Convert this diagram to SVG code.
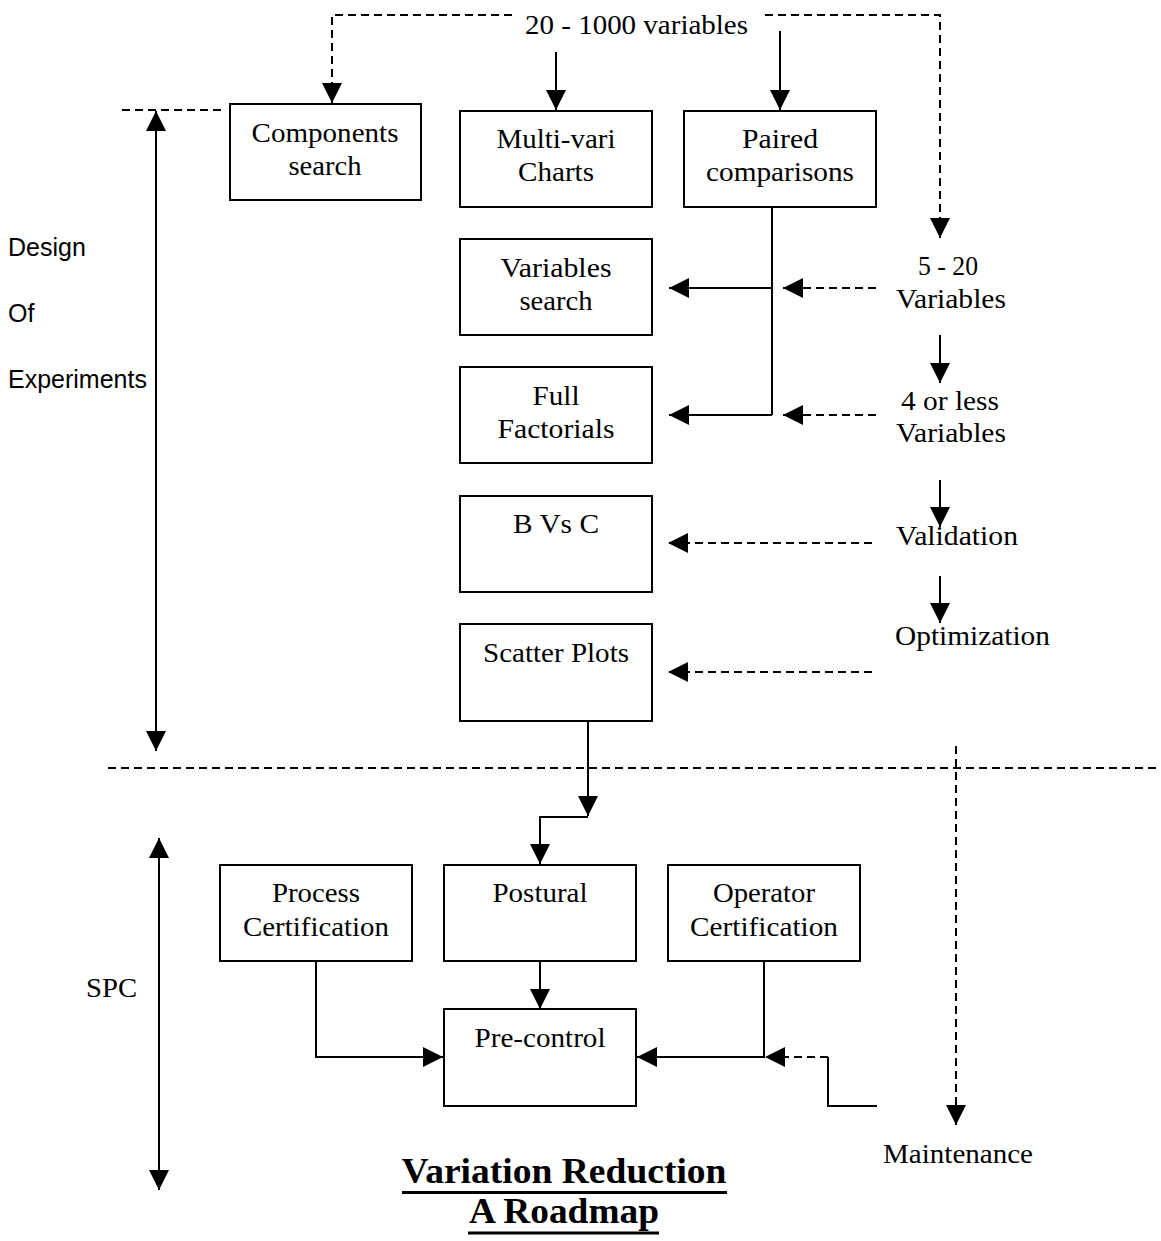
<svg xmlns="http://www.w3.org/2000/svg" width="1161" height="1241" viewBox="0 0 1161 1241">
<style>
.box{fill:#fff;stroke:#000;stroke-width:2}
.t{font-family:"Liberation Serif","Times New Roman",serif;font-size:28px;fill:#000}
.c{text-anchor:middle}
.s{font-family:"Liberation Sans",Arial,sans-serif;font-size:25px;fill:#000}
.b{font-family:"Liberation Serif","Times New Roman",serif;font-size:36px;font-weight:bold;fill:#000;text-anchor:middle}
.ln{fill:none;stroke:#000;stroke-width:2}
.d{fill:none;stroke:#000;stroke-width:2;stroke-dasharray:8 5}
.a{marker-end:url(#ah)}
.a2{marker-start:url(#ahs);marker-end:url(#ah)}
</style>
<defs>
<marker id="ah" markerUnits="userSpaceOnUse" viewBox="0 0 20 20" markerWidth="20" markerHeight="20" refX="20" refY="10" orient="auto">
<path d="M0,0 L20,10 L0,20 z" fill="#000"/>
</marker>
<marker id="ahs" markerUnits="userSpaceOnUse" viewBox="0 0 20 20" markerWidth="20" markerHeight="20" refX="0" refY="10" orient="auto">
<path d="M20,0 L0,10 L20,20 z" fill="#000"/>
</marker>
</defs>

<g id="connectors">
<path class="d a" d="M512,15 H332 V103"/>
<path class="d a" d="M765,15 H940 V238"/>
<path class="ln a" d="M556,52 V110"/>
<path class="ln a" d="M780,31 V110"/>
<path class="ln" d="M772,207 V415"/>
<path class="ln a" d="M772,288 H669"/>
<path class="ln a" d="M772,415 H669"/>
<path class="d a" d="M876,288 H783"/>
<path class="d a" d="M876,415 H783"/>
<path class="ln a" d="M940,335 V383"/>
<path class="ln a" d="M940,480 V527"/>
<path class="ln a" d="M940,576 V623"/>
<path class="d a" d="M872,543 H668"/>
<path class="d a" d="M872,672 H668"/>
<path class="ln a" d="M588,721 V816"/>
<path class="ln a" d="M588,817 H540 V864"/>
<path class="ln a" d="M540,961 V1009"/>
<path class="ln a" d="M316,961 V1057 H443"/>
<path class="ln a" d="M764,961 V1057 H637"/>
<path class="d a" d="M828,1057 H765"/>
<path class="ln" d="M877,1106 H828 V1057"/>
<path class="d a" d="M956,746 V1125"/>
<path class="d" d="M108,768 H1161"/>
<path class="d" d="M122,110 H221"/>
<path class="ln a2" d="M156,111 V751"/>
<path class="ln a2" d="M159,838 V1190"/>
</g>

<g id="components-search">
<rect class="box" x="230" y="104" width="191" height="96"/>
<text class="t c" x="325" y="142" textLength="147" lengthAdjust="spacingAndGlyphs">Components</text>
<text class="t c" x="325" y="175" textLength="73" lengthAdjust="spacingAndGlyphs">search</text>
</g>
<g id="multi-vari">
<rect class="box" x="460" y="111" width="192" height="96"/>
<text class="t c" x="556" y="148" textLength="119" lengthAdjust="spacingAndGlyphs">Multi-vari</text>
<text class="t c" x="556" y="181" textLength="76" lengthAdjust="spacingAndGlyphs">Charts</text>
</g>
<g id="paired-comparisons">
<rect class="box" x="684" y="111" width="192" height="96"/>
<text class="t c" x="780" y="148" textLength="76" lengthAdjust="spacingAndGlyphs">Paired</text>
<text class="t c" x="780" y="181" textLength="148" lengthAdjust="spacingAndGlyphs">comparisons</text>
</g>
<g id="variables-search">
<rect class="box" x="460" y="239" width="192" height="96"/>
<text class="t c" x="556" y="277" textLength="111" lengthAdjust="spacingAndGlyphs">Variables</text>
<text class="t c" x="556" y="310" textLength="73" lengthAdjust="spacingAndGlyphs">search</text>
</g>
<g id="full-factorials">
<rect class="box" x="460" y="367" width="192" height="96"/>
<text class="t c" x="556" y="405" textLength="47" lengthAdjust="spacingAndGlyphs">Full</text>
<text class="t c" x="556" y="438" textLength="117" lengthAdjust="spacingAndGlyphs">Factorials</text>
</g>
<g id="b-vs-c">
<rect class="box" x="460" y="496" width="192" height="96"/>
<text class="t c" x="556" y="533" textLength="86" lengthAdjust="spacingAndGlyphs">B Vs C</text>
</g>
<g id="scatter-plots">
<rect class="box" x="460" y="624" width="192" height="97"/>
<text class="t c" x="556" y="662" textLength="146" lengthAdjust="spacingAndGlyphs">Scatter Plots</text>
</g>
<g id="process-certification">
<rect class="box" x="220" y="865" width="192" height="96"/>
<text class="t c" x="316" y="902" textLength="88" lengthAdjust="spacingAndGlyphs">Process</text>
<text class="t c" x="316" y="936" textLength="146" lengthAdjust="spacingAndGlyphs">Certification</text>
</g>
<g id="postural">
<rect class="box" x="444" y="865" width="192" height="96"/>
<text class="t c" x="540" y="902" textLength="95" lengthAdjust="spacingAndGlyphs">Postural</text>
</g>
<g id="operator-certification">
<rect class="box" x="668" y="865" width="192" height="96"/>
<text class="t c" x="764" y="902" textLength="102" lengthAdjust="spacingAndGlyphs">Operator</text>
<text class="t c" x="764" y="936" textLength="148" lengthAdjust="spacingAndGlyphs">Certification</text>
</g>
<g id="pre-control">
<rect class="box" x="444" y="1009" width="192" height="97"/>
<text class="t c" x="540" y="1047" textLength="131" lengthAdjust="spacingAndGlyphs">Pre-control</text>
</g>

<g id="labels">
<text class="t" x="525" y="34" textLength="223" lengthAdjust="spacingAndGlyphs">20 - 1000 variables</text>
<text class="t" x="918" y="275" textLength="60" lengthAdjust="spacingAndGlyphs">5 - 20</text>
<text class="t" x="896" y="308" textLength="110" lengthAdjust="spacingAndGlyphs">Variables</text>
<text class="t" x="901" y="410" textLength="98" lengthAdjust="spacingAndGlyphs">4 or less</text>
<text class="t" x="896" y="442" textLength="110" lengthAdjust="spacingAndGlyphs">Variables</text>
<text class="t" x="896" y="545" textLength="122" lengthAdjust="spacingAndGlyphs">Validation</text>
<text class="t" x="895" y="645" textLength="155" lengthAdjust="spacingAndGlyphs">Optimization</text>
<text class="t" x="883" y="1163" textLength="150" lengthAdjust="spacingAndGlyphs">Maintenance</text>
<text class="t" x="86" y="997" textLength="51" lengthAdjust="spacingAndGlyphs">SPC</text>
<text class="s" x="8" y="256">Design</text>
<text class="s" x="8" y="322">Of</text>
<text class="s" x="8" y="388">Experiments</text>
</g>

<g id="title">
<text class="b" x="564" y="1183" textLength="325" lengthAdjust="spacingAndGlyphs">Variation Reduction</text>
<text class="b" x="564" y="1223" textLength="190" lengthAdjust="spacingAndGlyphs">A Roadmap</text>
<line x1="402" y1="1192.5" x2="727" y2="1192.5" stroke="#000" stroke-width="3"/>
<line x1="468" y1="1233" x2="659" y2="1233" stroke="#000" stroke-width="3"/>
</g>
</svg>
